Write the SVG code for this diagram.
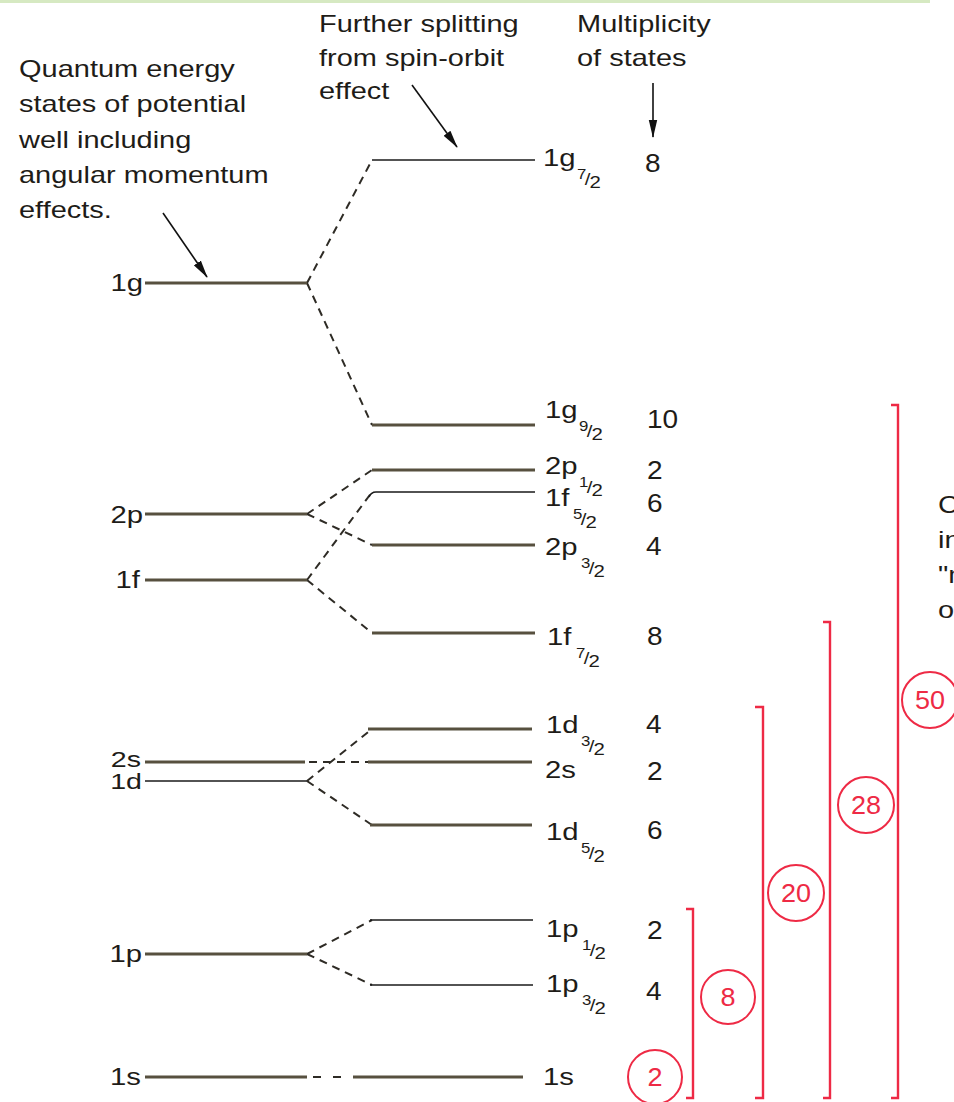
<svg xmlns="http://www.w3.org/2000/svg" width="954" height="1102" viewBox="0 0 954 1102">
<style>
text{font-family:"Liberation Sans",Arial,Helvetica,sans-serif;fill:#1e1c18}
.ann{font-size:23px}
.lab{font-size:24px}
.lft{font-size:24px;text-anchor:end}
.lft2{font-size:22px;text-anchor:end}
.mul{font-size:25px}
.sub{font-size:17px}
.num{font-size:14px}
.thick{stroke:#57503f;stroke-width:3;fill:none}
.thin{stroke:#1a1a1a;stroke-width:1.6;fill:none}
.dash{stroke:#2e2b25;stroke-width:2;stroke-dasharray:8 6;fill:none}
.arr{stroke:#111;stroke-width:1.6;fill:none;marker-end:url(#ah)}
.red{stroke:#ee2a45;stroke-width:2.4;fill:none}
.ring{stroke:#ee2a45;stroke-width:2;fill:#fff}
.rt{font-size:25px;fill:#ee2a45;text-anchor:middle}
</style>
<defs>
<marker id="ah" markerUnits="userSpaceOnUse" viewBox="0 0 18 10" markerWidth="18" markerHeight="10" refX="17" refY="5" orient="auto">
<path d="M0,0.8 L18,5 L0,9.2 z" fill="#111"/>
</marker>
</defs>
<rect width="954" height="1102" fill="#fff"/>
<line x1="0" y1="1.5" x2="930" y2="1.5" stroke="#d6e9c2" stroke-width="3"/>

<g id="annotations">
<text class="ann" transform="translate(19 77) scale(1.26 1)">Quantum energy</text>
<text class="ann" transform="translate(19 112) scale(1.26 1)">states of potential</text>
<text class="ann" transform="translate(19 148) scale(1.26 1)">well including</text>
<text class="ann" transform="translate(19 183) scale(1.26 1)">angular momentum</text>
<text class="ann" transform="translate(19 218) scale(1.26 1)">effects.</text>
<text class="ann" transform="translate(319 32) scale(1.26 1)">Further splitting</text>
<text class="ann" transform="translate(319 66) scale(1.26 1)">from spin-orbit</text>
<text class="ann" transform="translate(319 99) scale(1.26 1)">effect</text>
<text class="ann" transform="translate(577 32) scale(1.26 1)">Multiplicity</text>
<text class="ann" transform="translate(577 66) scale(1.26 1)">of states</text>
<text class="ann" transform="translate(938 513) scale(1.26 1)">C</text>
<text class="ann" transform="translate(938 548) scale(1.26 1)">in</text>
<text class="ann" transform="translate(938 583) scale(1.26 1)">"m</text>
<text class="ann" transform="translate(938 618) scale(1.26 1)">o</text>
</g>

<g id="connectors">
<line class="arr" x1="163" y1="213" x2="207" y2="277"/>
<line class="arr" x1="412" y1="85" x2="457" y2="147"/>
<line class="arr" x1="653" y1="83" x2="653" y2="137"/>
<path class="dash" d="M307,283 L372,160 M307,283 L372,425"/>
<path class="dash" d="M307,514 L372,470 M307,514 L372,545"/>
<path class="dash" d="M307,580 L372,492 M307,580 L372,633"/>
<path class="dash" d="M309,762 L368,762"/>
<path class="dash" d="M307,781 L372,729 M307,781 L372,825"/>
<path class="dash" d="M307,954 L372,920 M307,954 L372,985"/>
<path class="dash" d="M313,1077 L349,1077" style="stroke-dasharray:8 12"/>
</g>

<g id="left-levels">
<g id="L-1g"><line class="thick" x1="145" y1="283" x2="307" y2="283"/><text class="lft" transform="translate(143 291) scale(1.22 1)">1g</text></g>
<g id="L-2p"><line class="thick" x1="145" y1="514" x2="307" y2="514"/><text class="lft" transform="translate(143 523) scale(1.22 1)">2p</text></g>
<g id="L-1f"><line class="thick" x1="145" y1="580" x2="307" y2="580"/><text class="lft" transform="translate(140 588) scale(1.22 1)">1f</text></g>
<g id="L-2s"><line class="thick" x1="145" y1="762" x2="305" y2="762"/><text class="lft2" transform="translate(141 767) scale(1.3 1)">2s</text></g>
<g id="L-1d"><line class="thin" x1="145" y1="781" x2="307" y2="781"/><text class="lft2" transform="translate(142 789) scale(1.3 1)">1d</text></g>
<g id="L-1p"><line class="thick" x1="145" y1="954" x2="307" y2="954"/><text class="lft" transform="translate(142 962) scale(1.22 1)">1p</text></g>
<g id="L-1s"><line class="thick" x1="145" y1="1077" x2="307" y2="1077"/><text class="lft" transform="translate(141 1085) scale(1.22 1)">1s</text></g>
</g>

<g id="right-levels">
<g id="R-1g72"><line class="thin" x1="372" y1="160" x2="535" y2="160"/><text class="lab" transform="translate(543 166) scale(1.22 1)">1g</text>
<text class="sub" transform="translate(577 166) scale(1.2 1)"><tspan class="num" x="0" y="13">7</tspan><tspan x="6.5" y="19">/</tspan><tspan x="10.5" y="22">2</tspan></text><text class="mul" transform="translate(645 172) scale(1.12 1)">8</text></g>
<g id="R-1g92"><line class="thick" x1="372" y1="425" x2="535" y2="425"/><text class="lab" transform="translate(545 418) scale(1.22 1)">1g</text>
<text class="sub" transform="translate(579 418) scale(1.2 1)"><tspan class="num" x="0" y="13">9</tspan><tspan x="6.5" y="19">/</tspan><tspan x="10.5" y="22">2</tspan></text><text class="mul" transform="translate(647 428) scale(1.12 1)">10</text></g>
<g id="R-2p12"><line class="thick" x1="372" y1="470" x2="535" y2="470"/><text class="lab" transform="translate(545 474) scale(1.22 1)">2p</text>
<text class="sub" transform="translate(579 474) scale(1.2 1)"><tspan class="num" x="0" y="13">1</tspan><tspan x="6.5" y="19">/</tspan><tspan x="10.5" y="22">2</tspan></text><text class="mul" transform="translate(647 479) scale(1.12 1)">2</text></g>
<g id="R-1f52"><path class="thin" d="M369,497 Q371,492 376,492 L535,492"/><text class="lab" transform="translate(545 506) scale(1.22 1)">1f</text>
<text class="sub" transform="translate(573 506) scale(1.2 1)"><tspan class="num" x="0" y="13">5</tspan><tspan x="6.5" y="19">/</tspan><tspan x="10.5" y="22">2</tspan></text><text class="mul" transform="translate(647 512) scale(1.12 1)">6</text></g>
<g id="R-2p32"><line class="thick" x1="372" y1="545" x2="535" y2="545"/><text class="lab" transform="translate(545 555) scale(1.22 1)">2p</text>
<text class="sub" transform="translate(581 555) scale(1.2 1)"><tspan class="num" x="0" y="13">3</tspan><tspan x="6.5" y="19">/</tspan><tspan x="10.5" y="22">2</tspan></text><text class="mul" transform="translate(646 555) scale(1.12 1)">4</text></g>
<g id="R-1f72"><line class="thick" x1="372" y1="633" x2="535" y2="633"/><text class="lab" transform="translate(547 645) scale(1.22 1)">1f</text>
<text class="sub" transform="translate(576 645) scale(1.2 1)"><tspan class="num" x="0" y="13">7</tspan><tspan x="6.5" y="19">/</tspan><tspan x="10.5" y="22">2</tspan></text><text class="mul" transform="translate(647 645) scale(1.12 1)">8</text></g>
<g id="R-1d32"><line class="thick" x1="368" y1="729" x2="532" y2="729"/><text class="lab" transform="translate(546 733) scale(1.22 1)">1d</text>
<text class="sub" transform="translate(581 733) scale(1.2 1)"><tspan class="num" x="0" y="13">3</tspan><tspan x="6.5" y="19">/</tspan><tspan x="10.5" y="22">2</tspan></text><text class="mul" transform="translate(646 733) scale(1.12 1)">4</text></g>
<g id="R-2s"><line class="thick" x1="368" y1="762" x2="532" y2="762"/><text class="lab" transform="translate(545 778) scale(1.22 1)">2s</text><text class="mul" transform="translate(647 780) scale(1.12 1)">2</text></g>
<g id="R-1d52"><line class="thick" x1="370" y1="825" x2="532" y2="825"/><text class="lab" transform="translate(546 840) scale(1.22 1)">1d</text>
<text class="sub" transform="translate(581 840) scale(1.2 1)"><tspan class="num" x="0" y="13">5</tspan><tspan x="6.5" y="19">/</tspan><tspan x="10.5" y="22">2</tspan></text><text class="mul" transform="translate(647 839) scale(1.12 1)">6</text></g>
<g id="R-1p12"><line class="thin" x1="370" y1="920" x2="533" y2="920"/><text class="lab" transform="translate(546 937) scale(1.22 1)">1p</text>
<text class="sub" transform="translate(582 937) scale(1.2 1)"><tspan class="num" x="0" y="13">1</tspan><tspan x="6.5" y="19">/</tspan><tspan x="10.5" y="22">2</tspan></text><text class="mul" transform="translate(647 939) scale(1.12 1)">2</text></g>
<g id="R-1p32"><line class="thin" x1="370" y1="985" x2="533" y2="985"/><text class="lab" transform="translate(546 992) scale(1.22 1)">1p</text>
<text class="sub" transform="translate(582 992) scale(1.2 1)"><tspan class="num" x="0" y="13">3</tspan><tspan x="6.5" y="19">/</tspan><tspan x="10.5" y="22">2</tspan></text><text class="mul" transform="translate(646 1000) scale(1.12 1)">4</text></g>
<g id="R-1s"><line class="thick" x1="353" y1="1077" x2="523" y2="1077"/><text class="lab" transform="translate(543 1085) scale(1.22 1)">1s</text></g>
</g>

<g id="magic-numbers">
<g id="M-2"><path class="red" d="M686,909 L693,909 L693,1098 L686,1098"/><circle class="ring" cx="655" cy="1077" r="27"/><text class="rt" transform="translate(655 1086) scale(1.08 1)">2</text></g>
<g id="M-8"><path class="red" d="M755,707 L763,707 L763,1098 L755,1098"/><circle class="ring" cx="728" cy="997" r="27"/><text class="rt" transform="translate(728 1006) scale(1.08 1)">8</text></g>
<g id="M-20"><path class="red" d="M823,622 L830,622 L830,1098 L823,1098"/><circle class="ring" cx="796" cy="893" r="28"/><text class="rt" transform="translate(796 902) scale(1.08 1)">20</text></g>
<g id="M-28"><path class="red" d="M891,405 L898,405 L898,1098 L891,1098"/><circle class="ring" cx="866" cy="805" r="28"/><text class="rt" transform="translate(866 814) scale(1.08 1)">28</text></g>
<g id="M-50"><circle class="ring" cx="930" cy="700" r="28"/><text class="rt" transform="translate(930 709) scale(1.08 1)">50</text></g>
</g>
</svg>
